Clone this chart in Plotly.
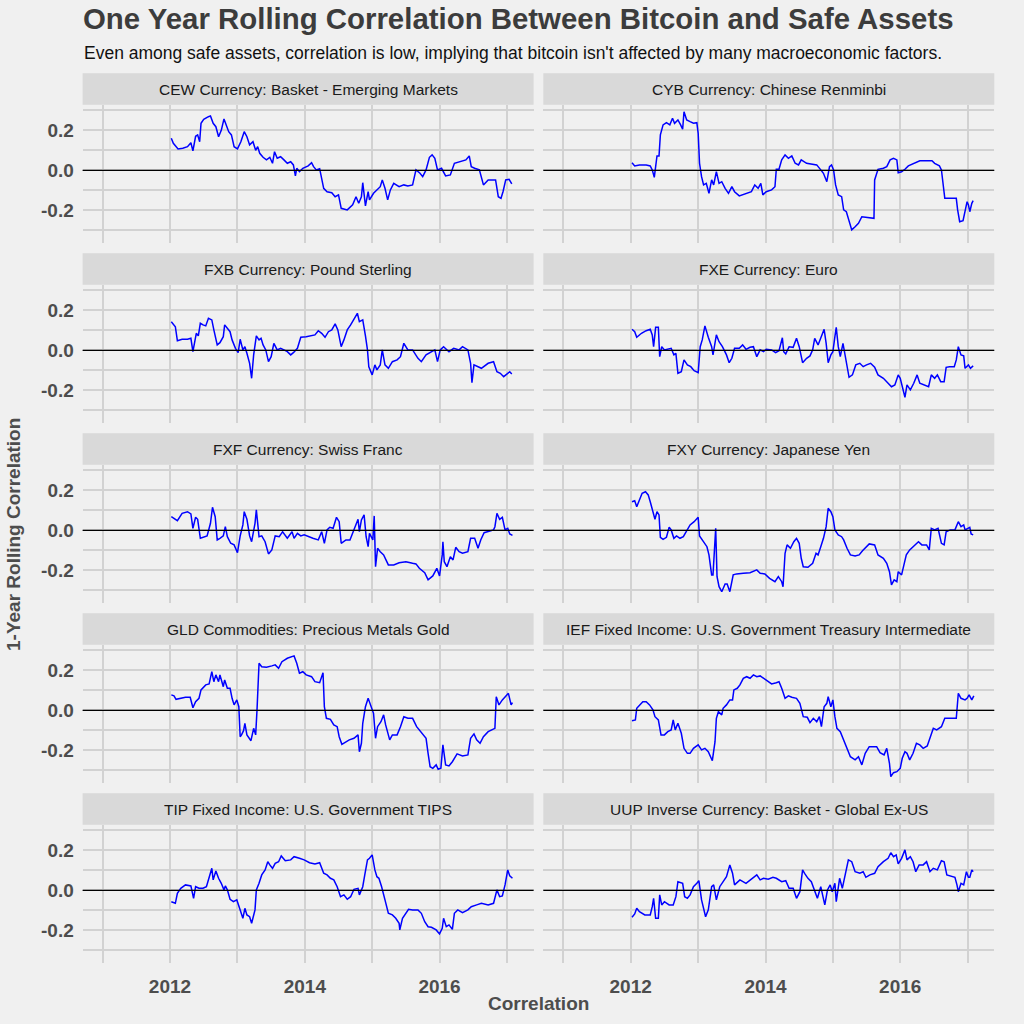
import pandas as pd
import plotly.graph_objects as go
from plotly.subplots import make_subplots

# ---------------- data (decimal year, 1-year rolling correlation) ----------------
panel_titles = [
    "CEW Currency: Basket - Emerging Markets",
    "CYB Currency: Chinese Renminbi",
    "FXB Currency: Pound Sterling",
    "FXE Currency: Euro",
    "FXF Currency: Swiss Franc",
    "FXY Currency: Japanese Yen",
    "GLD Commodities: Precious Metals Gold",
    "IEF Fixed Income: U.S. Government Treasury Intermediate",
    "TIP Fixed Income: U.S. Government TIPS",
    "UUP Inverse Currency: Basket - Global Ex-US",
]

cew = [(2012.02,0.160),(2012.05,0.135),(2012.12,0.107),(2012.19,0.110),(2012.26,0.118),(2012.31,0.138),(2012.34,0.097),(2012.38,0.170),(2012.41,0.177),(2012.44,0.143),(2012.46,0.235),(2012.50,0.255),(2012.57,0.268),(2012.60,0.272),(2012.64,0.235),(2012.68,0.218),(2012.72,0.168),(2012.76,0.200),(2012.80,0.257),(2012.83,0.227),(2012.87,0.193),(2012.91,0.177),(2012.95,0.118),(2013.00,0.107),(2013.05,0.143),(2013.10,0.193),(2013.14,0.168),(2013.18,0.127),(2013.23,0.143),(2013.27,0.100),(2013.30,0.118),(2013.33,0.085),(2013.38,0.065),(2013.43,0.052),(2013.48,0.065),(2013.52,0.035),(2013.55,0.093),(2013.59,0.060),(2013.64,0.068),(2013.69,0.052),(2013.74,0.035),(2013.79,0.043),(2013.83,0.027),(2013.86,-0.028),(2013.88,0.010),(2013.92,-0.007),(2013.97,0.010),(2014.05,0.022),(2014.10,0.038),(2014.13,0.018),(2014.17,0.002),(2014.22,0.008),(2014.25,-0.048),(2014.28,-0.090),(2014.33,-0.107),(2014.40,-0.112),(2014.45,-0.132),(2014.50,-0.123),(2014.54,-0.190),(2014.58,-0.195),(2014.63,-0.198),(2014.71,-0.173),(2014.76,-0.132),(2014.80,-0.165),(2014.84,-0.132),(2014.86,-0.062),(2014.90,-0.178),(2014.94,-0.107),(2014.96,-0.148),(2015.02,-0.115),(2015.07,-0.098),(2015.12,-0.082),(2015.15,-0.048),(2015.19,-0.090),(2015.23,-0.148),(2015.27,-0.098),(2015.32,-0.065),(2015.40,-0.082),(2015.47,-0.073),(2015.53,-0.078),(2015.60,-0.073),(2015.65,0.002),(2015.71,-0.015),(2015.75,-0.032),(2015.80,0.002),(2015.85,0.065),(2015.89,0.077),(2015.93,0.060),(2015.97,0.002),(2016.03,0.010),(2016.09,-0.028),(2016.16,-0.023),(2016.22,0.035),(2016.31,0.043),(2016.39,0.052),(2016.44,0.072),(2016.47,0.018),(2016.52,0.010),(2016.59,0.002),(2016.65,-0.073),(2016.72,-0.048),(2016.83,-0.048),(2016.87,-0.132),(2016.91,-0.140),(2016.94,-0.107),(2016.98,-0.048),(2017.03,-0.045),(2017.07,-0.068)]

cyb = [(2012.02,0.038),(2012.06,0.022),(2012.13,0.027),(2012.23,0.027),(2012.29,0.022),(2012.32,0.002),(2012.35,-0.035),(2012.37,0.022),(2012.39,0.072),(2012.42,0.072),(2012.44,0.177),(2012.48,0.227),(2012.53,0.238),(2012.58,0.227),(2012.62,0.260),(2012.65,0.235),(2012.70,0.252),(2012.74,0.227),(2012.77,0.205),(2012.79,0.293),(2012.83,0.252),(2012.88,0.243),(2012.93,0.235),(2012.98,0.238),(2013.00,0.185),(2013.02,0.035),(2013.05,-0.032),(2013.08,-0.073),(2013.12,-0.065),(2013.16,-0.115),(2013.20,-0.048),(2013.23,-0.073),(2013.27,-0.007),(2013.31,-0.065),(2013.35,-0.057),(2013.40,-0.090),(2013.45,-0.115),(2013.50,-0.082),(2013.54,-0.107),(2013.61,-0.128),(2013.69,-0.120),(2013.79,-0.107),(2013.84,-0.073),(2013.89,-0.090),(2013.93,-0.065),(2013.96,-0.123),(2014.01,-0.107),(2014.09,-0.098),(2014.14,-0.082),(2014.16,0.005),(2014.20,0.005),(2014.24,0.052),(2014.29,0.077),(2014.34,0.060),(2014.39,0.072),(2014.44,0.035),(2014.49,0.027),(2014.53,0.052),(2014.61,0.035),(2014.68,0.030),(2014.76,0.027),(2014.82,0.002),(2014.86,-0.015),(2014.91,-0.057),(2014.95,0.018),(2014.98,0.027),(2015.01,0.002),(2015.04,-0.073),(2015.08,-0.123),(2015.13,-0.132),(2015.16,-0.198),(2015.20,-0.207),(2015.24,-0.257),(2015.28,-0.298),(2015.33,-0.282),(2015.38,-0.265),(2015.43,-0.232),(2015.50,-0.235),(2015.57,-0.240),(2015.61,-0.240),(2015.62,-0.048),(2015.67,0.005),(2015.75,0.010),(2015.80,0.018),(2015.85,0.052),(2015.90,0.060),(2015.95,0.052),(2015.97,-0.012),(2016.02,-0.007),(2016.07,0.005),(2016.12,0.022),(2016.19,0.032),(2016.29,0.048),(2016.39,0.048),(2016.47,0.048),(2016.51,0.035),(2016.58,0.022),(2016.61,0.002),(2016.64,-0.073),(2016.66,-0.140),(2016.74,-0.140),(2016.83,-0.140),(2016.85,-0.198),(2016.88,-0.257),(2016.93,-0.252),(2016.96,-0.198),(2016.99,-0.157),(2017.01,-0.173),(2017.03,-0.207),(2017.06,-0.165),(2017.08,-0.152)]

fxb = [(2012.02,0.143),(2012.05,0.130),(2012.08,0.118),(2012.11,0.048),(2012.18,0.055),(2012.26,0.055),(2012.31,0.060),(2012.34,-0.007),(2012.39,0.085),(2012.42,0.072),(2012.45,0.135),(2012.49,0.127),(2012.53,0.122),(2012.57,0.160),(2012.62,0.152),(2012.65,0.102),(2012.70,0.027),(2012.74,0.038),(2012.79,0.068),(2012.81,0.127),(2012.85,0.110),(2012.89,0.093),(2012.92,0.052),(2012.97,0.010),(2013.01,-0.012),(2013.04,0.055),(2013.08,0.002),(2013.11,0.018),(2013.14,-0.015),(2013.18,-0.065),(2013.21,-0.140),(2013.24,-0.023),(2013.28,0.072),(2013.32,0.052),(2013.35,0.060),(2013.38,0.027),(2013.42,0.002),(2013.46,-0.057),(2013.50,-0.032),(2013.54,0.035),(2013.59,0.002),(2013.64,0.010),(2013.69,0.002),(2013.74,-0.007),(2013.79,-0.023),(2013.83,-0.012),(2013.89,0.010),(2013.94,0.065),(2014.02,0.068),(2014.10,0.072),(2014.15,0.077),(2014.20,0.098),(2014.25,0.085),(2014.30,0.065),(2014.35,0.093),(2014.40,0.102),(2014.45,0.132),(2014.49,0.102),(2014.54,0.018),(2014.58,0.052),(2014.63,0.102),(2014.68,0.127),(2014.73,0.160),(2014.78,0.185),(2014.81,0.143),(2014.86,0.152),(2014.90,0.072),(2014.93,0.002),(2014.95,-0.082),(2015.00,-0.123),(2015.04,-0.073),(2015.07,-0.098),(2015.12,-0.073),(2015.15,0.002),(2015.19,-0.073),(2015.24,-0.090),(2015.30,-0.057),(2015.37,-0.048),(2015.42,-0.032),(2015.47,0.035),(2015.53,0.002),(2015.60,0.002),(2015.68,-0.040),(2015.73,-0.057),(2015.80,-0.023),(2015.88,-0.007),(2015.93,0.002),(2015.97,-0.057),(2016.01,0.002),(2016.06,0.018),(2016.14,-0.007),(2016.21,0.010),(2016.29,0.002),(2016.34,0.018),(2016.42,0.002),(2016.46,-0.065),(2016.48,-0.162),(2016.51,-0.073),(2016.57,-0.082),(2016.62,-0.090),(2016.72,-0.065),(2016.80,-0.057),(2016.85,-0.107),(2016.90,-0.115),(2016.95,-0.132),(2017.01,-0.115),(2017.04,-0.107),(2017.07,-0.118)]

fxe = [(2012.02,0.105),(2012.06,0.093),(2012.09,0.065),(2012.16,0.085),(2012.23,0.098),(2012.29,0.105),(2012.32,0.077),(2012.34,0.018),(2012.37,0.115),(2012.41,0.115),(2012.43,-0.032),(2012.46,0.018),(2012.50,0.002),(2012.55,0.005),(2012.60,0.010),(2012.64,-0.023),(2012.67,-0.015),(2012.70,-0.115),(2012.75,-0.107),(2012.79,-0.048),(2012.84,-0.073),(2012.89,-0.082),(2012.94,-0.102),(2013.00,-0.112),(2013.03,0.018),(2013.06,0.052),(2013.10,0.122),(2013.15,0.065),(2013.20,0.018),(2013.22,-0.023),(2013.27,0.077),(2013.31,0.043),(2013.36,0.018),(2013.42,-0.023),(2013.46,-0.062),(2013.50,-0.040),(2013.54,0.010),(2013.61,0.010),(2013.66,0.027),(2013.71,0.005),(2013.77,0.015),(2013.82,0.018),(2013.87,-0.032),(2013.92,0.002),(2013.97,-0.007),(2014.01,0.005),(2014.09,0.002),(2014.15,-0.012),(2014.20,-0.002),(2014.25,0.063),(2014.27,-0.007),(2014.30,-0.018),(2014.35,0.018),(2014.41,0.015),(2014.46,0.060),(2014.50,0.018),(2014.55,-0.062),(2014.61,-0.040),(2014.66,-0.028),(2014.70,0.002),(2014.73,0.060),(2014.78,0.027),(2014.83,0.068),(2014.87,0.105),(2014.90,0.035),(2014.93,-0.062),(2014.97,-0.023),(2015.00,-0.007),(2015.03,0.068),(2015.05,0.115),(2015.08,0.018),(2015.11,-0.032),(2015.15,0.035),(2015.19,-0.040),(2015.24,-0.135),(2015.29,-0.123),(2015.34,-0.073),(2015.40,-0.065),(2015.45,-0.082),(2015.50,-0.073),(2015.56,-0.065),(2015.62,-0.085),(2015.67,-0.123),(2015.75,-0.140),(2015.82,-0.165),(2015.87,-0.182),(2015.92,-0.173),(2015.97,-0.123),(2016.00,-0.140),(2016.04,-0.198),(2016.07,-0.235),(2016.10,-0.173),(2016.15,-0.198),(2016.20,-0.165),(2016.25,-0.123),(2016.29,-0.165),(2016.34,-0.173),(2016.42,-0.182),(2016.46,-0.123),(2016.51,-0.140),(2016.55,-0.123),(2016.60,-0.157),(2016.65,-0.157),(2016.68,-0.085),(2016.73,-0.082),(2016.80,-0.082),(2016.83,-0.048),(2016.86,0.018),(2016.90,-0.023),(2016.94,-0.028),(2016.96,-0.090),(2017.01,-0.073),(2017.04,-0.090),(2017.08,-0.078)]

fxf = [(2012.02,0.068),(2012.05,0.060),(2012.11,0.048),(2012.18,0.085),(2012.26,0.093),(2012.31,0.082),(2012.34,0.010),(2012.38,0.065),(2012.41,0.055),(2012.45,-0.040),(2012.50,-0.035),(2012.55,-0.028),(2012.60,0.035),(2012.63,0.115),(2012.67,0.068),(2012.70,-0.048),(2012.74,-0.040),(2012.79,-0.028),(2012.82,0.018),(2012.85,-0.032),(2012.90,-0.065),(2012.95,-0.073),(2013.00,-0.112),(2013.04,-0.028),(2013.08,0.027),(2013.10,0.093),(2013.14,0.055),(2013.18,-0.028),(2013.21,-0.057),(2013.26,0.035),(2013.28,0.102),(2013.32,-0.032),(2013.36,-0.028),(2013.41,-0.057),(2013.46,-0.118),(2013.51,-0.098),(2013.56,-0.028),(2013.62,-0.032),(2013.67,-0.007),(2013.74,-0.040),(2013.81,-0.007),(2013.84,-0.040),(2013.89,-0.015),(2013.94,-0.028),(2013.99,-0.023),(2014.05,-0.032),(2014.12,-0.040),(2014.20,-0.048),(2014.25,-0.007),(2014.29,-0.065),(2014.33,0.002),(2014.37,0.015),(2014.42,0.010),(2014.47,0.065),(2014.51,0.043),(2014.54,-0.065),(2014.61,-0.048),(2014.67,-0.048),(2014.73,0.002),(2014.79,0.055),(2014.81,-0.007),(2014.84,0.052),(2014.88,0.077),(2014.91,-0.032),(2014.94,-0.082),(2014.96,-0.015),(2015.01,-0.048),(2015.03,0.072),(2015.05,-0.182),(2015.08,-0.090),(2015.12,-0.107),(2015.17,-0.123),(2015.24,-0.173),(2015.32,-0.173),(2015.40,-0.162),(2015.50,-0.157),(2015.60,-0.165),(2015.65,-0.168),(2015.70,-0.190),(2015.78,-0.212),(2015.83,-0.248),(2015.90,-0.228),(2015.96,-0.190),(2016.00,-0.228),(2016.04,-0.123),(2016.05,-0.057),(2016.07,-0.157),(2016.11,-0.182),(2016.16,-0.132),(2016.20,-0.148),(2016.24,-0.085),(2016.29,-0.107),(2016.34,-0.115),(2016.42,-0.107),(2016.46,-0.040),(2016.52,-0.040),(2016.57,-0.090),(2016.61,-0.048),(2016.66,-0.012),(2016.72,-0.007),(2016.80,0.002),(2016.82,0.018),(2016.85,0.085),(2016.89,0.055),(2016.93,0.065),(2016.97,0.002),(2017.01,0.010),(2017.04,-0.018),(2017.08,-0.025)]

fxy = [(2012.02,0.143),(2012.06,0.148),(2012.09,0.118),(2012.13,0.152),(2012.17,0.185),(2012.22,0.193),(2012.26,0.177),(2012.29,0.143),(2012.33,0.093),(2012.36,0.055),(2012.39,0.093),(2012.42,0.077),(2012.44,-0.035),(2012.48,-0.045),(2012.53,-0.035),(2012.57,0.015),(2012.60,0.002),(2012.64,-0.040),(2012.68,-0.028),(2012.73,-0.040),(2012.78,-0.032),(2012.82,-0.007),(2012.88,0.027),(2012.94,0.043),(2013.00,0.065),(2013.02,-0.028),(2013.06,-0.048),(2013.10,-0.065),(2013.13,-0.082),(2013.16,-0.123),(2013.20,-0.223),(2013.22,-0.223),(2013.24,-0.065),(2013.26,0.010),(2013.28,-0.232),(2013.31,-0.282),(2013.35,-0.307),(2013.40,-0.268),(2013.43,-0.268),(2013.47,-0.307),(2013.52,-0.223),(2013.57,-0.218),(2013.67,-0.215),(2013.77,-0.212),(2013.87,-0.198),(2013.92,-0.215),(2013.99,-0.218),(2014.06,-0.240),(2014.14,-0.257),(2014.19,-0.232),(2014.24,-0.257),(2014.26,-0.282),(2014.29,-0.115),(2014.32,-0.073),(2014.37,-0.090),(2014.42,-0.057),(2014.46,-0.040),(2014.50,-0.065),(2014.53,-0.140),(2014.56,-0.182),(2014.63,-0.185),(2014.70,-0.165),(2014.75,-0.115),(2014.78,-0.123),(2014.82,-0.082),(2014.86,-0.040),(2014.90,0.018),(2014.93,0.110),(2014.97,0.093),(2015.00,0.068),(2015.03,0.002),(2015.08,-0.023),(2015.13,-0.032),(2015.16,-0.048),(2015.21,-0.090),(2015.26,-0.123),(2015.33,-0.128),(2015.39,-0.123),(2015.44,-0.102),(2015.49,-0.085),(2015.54,-0.068),(2015.62,-0.073),(2015.67,-0.123),(2015.75,-0.140),(2015.80,-0.165),(2015.84,-0.207),(2015.87,-0.273),(2015.91,-0.248),(2015.95,-0.257),(2015.97,-0.207),(2016.02,-0.223),(2016.06,-0.165),(2016.09,-0.123),(2016.14,-0.098),(2016.22,-0.073),(2016.27,-0.057),(2016.32,-0.073),(2016.39,-0.073),(2016.43,-0.098),(2016.46,0.010),(2016.51,0.002),(2016.56,0.010),(2016.61,-0.065),(2016.65,-0.073),(2016.68,-0.007),(2016.74,0.002),(2016.81,0.002),(2016.86,0.043),(2016.90,0.018),(2016.94,0.027),(2016.96,0.002),(2017.00,0.010),(2017.03,0.015),(2017.05,-0.018),(2017.08,-0.023)]

gld = [(2012.02,0.077),(2012.06,0.072),(2012.09,0.055),(2012.16,0.060),(2012.23,0.065),(2012.30,0.065),(2012.34,0.013),(2012.38,0.043),(2012.43,0.060),(2012.46,0.102),(2012.53,0.127),(2012.58,0.132),(2012.62,0.193),(2012.65,0.143),(2012.68,0.177),(2012.72,0.143),(2012.74,0.177),(2012.79,0.118),(2012.81,0.152),(2012.85,0.110),(2012.89,0.110),(2012.92,0.060),(2012.95,0.027),(2012.99,0.052),(2013.02,0.018),(2013.04,-0.132),(2013.06,-0.123),(2013.09,-0.102),(2013.11,-0.065),(2013.14,-0.123),(2013.18,-0.140),(2013.20,-0.152),(2013.24,-0.090),(2013.27,-0.123),(2013.29,0.002),(2013.32,0.235),(2013.36,0.218),(2013.43,0.215),(2013.51,0.222),(2013.56,0.227),(2013.61,0.210),(2013.66,0.243),(2013.74,0.260),(2013.81,0.268),(2013.84,0.272),(2013.88,0.235),(2013.92,0.185),(2013.97,0.193),(2014.02,0.177),(2014.10,0.168),(2014.15,0.143),(2014.22,0.138),(2014.27,0.188),(2014.29,0.018),(2014.32,-0.040),(2014.38,-0.045),(2014.43,-0.073),(2014.48,-0.082),(2014.51,-0.132),(2014.55,-0.170),(2014.61,-0.157),(2014.66,-0.148),(2014.73,-0.140),(2014.79,-0.123),(2014.81,-0.207),(2014.84,-0.165),(2014.86,-0.065),(2014.90,0.018),(2014.94,0.060),(2014.98,0.027),(2015.02,-0.015),(2015.05,-0.140),(2015.08,-0.082),(2015.13,-0.057),(2015.17,-0.023),(2015.20,-0.073),(2015.26,-0.148),(2015.30,-0.123),(2015.37,-0.123),(2015.42,-0.082),(2015.47,-0.032),(2015.53,-0.040),(2015.60,-0.040),(2015.66,-0.082),(2015.73,-0.112),(2015.80,-0.140),(2015.83,-0.215),(2015.86,-0.282),(2015.90,-0.290),(2015.95,-0.273),(2015.98,-0.295),(2016.02,-0.290),(2016.05,-0.173),(2016.09,-0.273),(2016.14,-0.278),(2016.19,-0.257),(2016.26,-0.218),(2016.34,-0.228),(2016.42,-0.223),(2016.46,-0.140),(2016.51,-0.118),(2016.55,-0.148),(2016.60,-0.165),(2016.65,-0.132),(2016.72,-0.107),(2016.78,-0.095),(2016.82,-0.090),(2016.84,0.068),(2016.88,0.027),(2016.93,0.052),(2016.98,0.068),(2017.02,0.085),(2017.06,0.027),(2017.08,0.038)]

ief = [(2012.02,-0.052),(2012.07,-0.048),(2012.09,0.010),(2012.13,0.027),(2012.18,0.043),(2012.23,0.043),(2012.28,0.027),(2012.33,0.002),(2012.36,-0.032),(2012.41,-0.048),(2012.45,-0.123),(2012.50,-0.123),(2012.55,-0.107),(2012.60,-0.098),(2012.63,-0.048),(2012.66,-0.098),(2012.70,-0.065),(2012.75,-0.115),(2012.79,-0.190),(2012.84,-0.215),(2012.88,-0.215),(2012.93,-0.190),(2013.00,-0.173),(2013.05,-0.198),(2013.10,-0.190),(2013.15,-0.207),(2013.18,-0.232),(2013.21,-0.252),(2013.25,-0.157),(2013.27,-0.040),(2013.30,-0.007),(2013.35,-0.023),(2013.37,0.010),(2013.42,0.027),(2013.47,0.052),(2013.51,0.052),(2013.53,0.102),(2013.58,0.110),(2013.62,0.127),(2013.67,0.160),(2013.72,0.168),(2013.77,0.160),(2013.82,0.177),(2013.87,0.168),(2013.92,0.172),(2013.97,0.160),(2014.02,0.152),(2014.09,0.132),(2014.16,0.138),(2014.20,0.143),(2014.24,0.110),(2014.29,0.060),(2014.34,0.072),(2014.39,0.065),(2014.46,0.060),(2014.51,0.035),(2014.56,-0.032),(2014.62,-0.035),(2014.66,-0.062),(2014.71,-0.040),(2014.76,-0.057),(2014.80,-0.032),(2014.83,-0.082),(2014.87,0.018),(2014.91,0.035),(2014.93,0.068),(2014.97,0.018),(2015.00,0.052),(2015.03,-0.032),(2015.06,-0.090),(2015.11,-0.107),(2015.15,-0.140),(2015.20,-0.190),(2015.26,-0.232),(2015.33,-0.248),(2015.38,-0.232),(2015.43,-0.273),(2015.48,-0.215),(2015.54,-0.182),(2015.60,-0.182),(2015.65,-0.182),(2015.70,-0.212),(2015.76,-0.223),(2015.80,-0.190),(2015.84,-0.265),(2015.86,-0.332),(2015.90,-0.312),(2015.95,-0.307),(2016.00,-0.290),(2016.03,-0.240),(2016.07,-0.207),(2016.10,-0.215),(2016.14,-0.248),(2016.19,-0.215),(2016.24,-0.165),(2016.29,-0.173),(2016.34,-0.190),(2016.40,-0.178),(2016.45,-0.123),(2016.49,-0.090),(2016.54,-0.098),(2016.61,-0.082),(2016.66,-0.040),(2016.74,-0.040),(2016.83,-0.040),(2016.86,0.085),(2016.90,0.060),(2016.96,0.052),(2016.99,0.060),(2017.02,0.077),(2017.06,0.052),(2017.09,0.072)]

tip = [(2012.02,-0.057),(2012.05,-0.062),(2012.08,-0.065),(2012.11,-0.015),(2012.16,0.010),(2012.23,0.027),(2012.31,0.022),(2012.35,-0.040),(2012.38,0.018),(2012.43,0.010),(2012.49,0.010),(2012.54,0.018),(2012.58,0.060),(2012.62,0.110),(2012.64,0.052),(2012.68,0.097),(2012.72,0.060),(2012.76,0.035),(2012.80,0.002),(2012.82,0.022),(2012.85,0.002),(2012.89,-0.045),(2012.94,-0.057),(2012.99,-0.048),(2013.04,-0.098),(2013.08,-0.140),(2013.11,-0.090),(2013.14,-0.123),(2013.18,-0.132),(2013.21,-0.165),(2013.26,-0.098),(2013.28,0.002),(2013.32,0.035),(2013.36,0.077),(2013.41,0.102),(2013.45,0.143),(2013.48,0.127),(2013.52,0.110),(2013.56,0.135),(2013.61,0.143),(2013.65,0.172),(2013.71,0.148),(2013.79,0.152),(2013.84,0.168),(2013.92,0.160),(2013.99,0.152),(2014.07,0.138),(2014.15,0.132),(2014.22,0.138),(2014.28,0.085),(2014.33,0.077),(2014.38,0.060),(2014.43,0.052),(2014.48,0.018),(2014.53,-0.032),(2014.58,-0.023),(2014.63,-0.045),(2014.68,-0.032),(2014.73,0.005),(2014.79,0.010),(2014.81,-0.023),(2014.86,0.018),(2014.89,0.077),(2014.93,0.152),(2014.96,0.160),(2015.00,0.177),(2015.04,0.102),(2015.07,0.068),(2015.10,0.060),(2015.14,0.018),(2015.19,-0.048),(2015.24,-0.115),(2015.30,-0.123),(2015.35,-0.140),(2015.40,-0.165),(2015.41,-0.198),(2015.45,-0.140),(2015.50,-0.115),(2015.54,-0.095),(2015.60,-0.098),(2015.68,-0.098),(2015.73,-0.115),(2015.78,-0.157),(2015.83,-0.182),(2015.88,-0.185),(2015.95,-0.198),(2016.00,-0.218),(2016.04,-0.190),(2016.06,-0.140),(2016.10,-0.182),(2016.14,-0.173),(2016.19,-0.195),(2016.22,-0.115),(2016.27,-0.098),(2016.34,-0.112),(2016.42,-0.098),(2016.47,-0.082),(2016.55,-0.073),(2016.62,-0.065),(2016.72,-0.073),(2016.80,-0.065),(2016.85,0.002),(2016.89,-0.032),(2016.93,-0.028),(2016.97,0.027),(2017.01,0.102),(2017.04,0.072),(2017.08,0.060)]

uup = [(2012.02,-0.135),(2012.06,-0.118),(2012.09,-0.090),(2012.13,-0.107),(2012.21,-0.123),(2012.29,-0.123),(2012.32,-0.082),(2012.34,-0.040),(2012.37,-0.140),(2012.41,-0.140),(2012.43,-0.023),(2012.46,-0.073),(2012.50,-0.057),(2012.57,-0.073),(2012.63,-0.073),(2012.67,-0.032),(2012.70,0.043),(2012.77,0.035),(2012.80,-0.032),(2012.84,-0.040),(2012.88,-0.023),(2012.93,0.018),(2012.98,0.035),(2013.01,0.048),(2013.05,-0.048),(2013.08,-0.098),(2013.11,-0.132),(2013.15,-0.098),(2013.20,0.018),(2013.23,0.027),(2013.27,-0.048),(2013.32,0.018),(2013.37,0.043),(2013.42,0.068),(2013.47,0.127),(2013.51,0.085),(2013.54,0.027),(2013.62,0.052),(2013.71,0.035),(2013.77,0.052),(2013.87,0.077),(2013.92,0.052),(2013.97,0.060),(2014.04,0.055),(2014.11,0.065),(2014.16,0.060),(2014.24,0.043),(2014.30,0.048),(2014.35,0.010),(2014.41,0.010),(2014.46,-0.040),(2014.51,-0.007),(2014.55,0.102),(2014.58,0.085),(2014.63,0.060),(2014.68,0.043),(2014.73,0.002),(2014.77,-0.040),(2014.82,0.018),(2014.85,-0.023),(2014.88,-0.073),(2014.92,0.002),(2014.96,0.027),(2014.99,-0.007),(2015.03,0.035),(2015.05,-0.057),(2015.10,0.060),(2015.14,0.010),(2015.18,0.068),(2015.23,0.152),(2015.28,0.143),(2015.33,0.093),(2015.40,0.085),(2015.45,0.093),(2015.49,0.065),(2015.55,0.077),(2015.62,0.085),(2015.67,0.118),(2015.75,0.143),(2015.82,0.160),(2015.86,0.188),(2015.90,0.168),(2015.94,0.177),(2015.97,0.132),(2016.02,0.160),(2016.07,0.202),(2016.10,0.152),(2016.15,0.168),(2016.19,0.143),(2016.23,0.093),(2016.28,0.127),(2016.34,0.127),(2016.39,0.143),(2016.44,0.093),(2016.49,0.110),(2016.55,0.102),(2016.61,0.148),(2016.65,0.143),(2016.69,0.077),(2016.76,0.068),(2016.81,0.065),(2016.84,0.027),(2016.86,-0.007),(2016.90,0.035),(2016.94,0.027),(2016.98,0.093),(2017.01,0.065),(2017.03,0.065),(2017.06,0.102),(2017.08,0.093)]

series = [cew, cyb, fxb, fxe, fxf, fxy, gld, ief, tip, uup]

year_ticks = [2011, 2012, 2013, 2014, 2015, 2016, 2017]
year_labels = ["", "2012", "", "2014", "", "2016", ""]
y_ticks = [-0.3, -0.2, -0.1, 0.0, 0.1, 0.2, 0.3]
y_labels = ["", "-0.2", "", "0.0", "", "0.2", ""]

title = "One Year Rolling Correlation Between Bitcoin and Safe Assets"
subtitle = "Even among safe assets, correlation is low, implying that bitcoin isn't affected by many macroeconomic factors."
y_title = "1-Year Rolling Correlation"
x_title = "Correlation"


def to_date(d):
    y = int(d)
    start = pd.Timestamp(year=y, month=1, day=1)
    days = (pd.Timestamp(year=y + 1, month=1, day=1) - start).days
    return start + pd.Timedelta(days=(d - y) * days)


# ---------------- layout (pixels) ----------------
W = H = 1024
FONT = "Liberation Sans, Arial, sans-serif"
BG = "#F0F0F0"
GRID = "#D2D2D2"
TICK_COL = "#4D4D4D"
col_x = [(82.6, 533.6), (543.3, 994.3)]
strip_top0, strip_bot0, plot_bot0, pitch = 73.3, 104.7, 243.0, 180.0
x_range = [to_date(2010.703), to_date(2017.394)]
y_range = [-0.3635, 0.328]


def py(p):
    return 1 - p / H


def px(p):
    return p / W


fig = make_subplots(rows=5, cols=2)

shapes = []
annotations = []
for i, (name, pts) in enumerate(zip(panel_titles, series)):
    r, c = i // 2, i % 2
    xs = [to_date(p[0]) for p in pts]
    ys = [p[1] for p in pts]
    fig.add_trace(
        go.Scatter(x=xs, y=ys, mode="lines", line=dict(color="#0000FF", width=1.5),
                   showlegend=False, hoverinfo="skip"),
        row=r + 1, col=c + 1,
    )
    x0, x1 = col_x[c]
    st, sb, pb = strip_top0 + pitch * r, strip_bot0 + pitch * r, plot_bot0 + pitch * r
    n = i + 1
    xa = "xaxis" if n == 1 else f"xaxis{n}"
    ya = "yaxis" if n == 1 else f"yaxis{n}"
    fig.layout[xa].update(
        domain=[px(x0), px(x1)], range=x_range, type="date",
        tickvals=[to_date(v) for v in year_ticks], ticktext=year_labels,
        showticklabels=(r == 4), ticks="outside", ticklen=6, tickcolor="rgba(0,0,0,0)",
        showgrid=True, gridcolor=GRID, gridwidth=1.6, zeroline=False, showline=False,
        tickfont=dict(family=FONT, size=19, color=TICK_COL, weight="bold"),
    )
    fig.layout[ya].update(
        domain=[py(pb), py(sb)], range=y_range,
        tickvals=y_ticks, ticktext=y_labels,
        showticklabels=(c == 0), ticks="outside", ticklen=4, tickcolor="rgba(0,0,0,0)",
        showgrid=True, gridcolor=GRID, gridwidth=1.6, zeroline=False, showline=False,
        tickfont=dict(family=FONT, size=19, color=TICK_COL, weight="bold"),
    )
    # facet strip
    shapes.append(dict(type="rect", xref="paper", yref="paper", x0=px(x0), x1=px(x1),
                       y0=py(sb), y1=py(st), fillcolor="#D9D9D9", line=dict(width=0), layer="below"))
    annotations.append(dict(text=name, xref="paper", yref="paper", x=px((x0 + x1) / 2),
                            y=py((st + sb) / 2), xanchor="center", yanchor="middle", showarrow=False,
                            font=dict(family=FONT, size=15.5, color="#1A1A1A")))
    # zero reference line
    xd = "x domain" if n == 1 else f"x{n} domain"
    yr = "y" if n == 1 else f"y{n}"
    shapes.append(dict(type="line", xref=xd, yref=yr, x0=0, x1=1, y0=0, y1=0,
                       line=dict(color="black", width=1.3), layer="above"))

annotations += [
    dict(text=f"<b>{title}</b>", xref="paper", yref="paper", x=px(81), y=py(18),
         xanchor="left", yanchor="middle", showarrow=False,
         font=dict(family=FONT, size=29.4, color="#3C3C3C")),
    dict(text=subtitle, xref="paper", yref="paper", x=px(82), y=py(53),
         xanchor="left", yanchor="middle", showarrow=False,
         font=dict(family=FONT, size=17.5, color="#111111")),
    dict(text=f"<b>{y_title}</b>", xref="paper", yref="paper", x=px(13), y=py(535),
         xanchor="center", yanchor="middle", showarrow=False, textangle=-90,
         font=dict(family=FONT, size=19, color=TICK_COL)),
    dict(text=f"<b>{x_title}</b>", xref="paper", yref="paper", x=px(538), y=py(1003),
         xanchor="center", yanchor="middle", showarrow=False,
         font=dict(family=FONT, size=19, color=TICK_COL)),
]

fig.update_layout(
    width=W, height=H, margin=dict(l=0, r=0, t=0, b=0),
    paper_bgcolor=BG, plot_bgcolor=BG, showlegend=False,
    shapes=shapes, annotations=annotations,
    font=dict(family=FONT),
)
fig.write_html("out.html", config={"displayModeBar": False},
               post_script="document.body.style.margin='0';document.body.style.padding='0';")
